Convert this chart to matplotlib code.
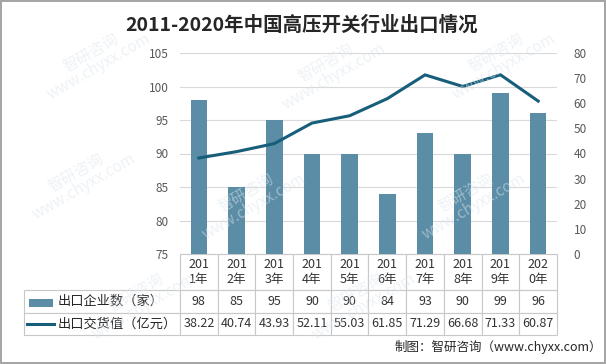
import matplotlib.pyplot as plt
from matplotlib.patches import Rectangle
from matplotlib.lines import Line2D
import numpy as np

plt.rcParams['font.family'] = ['Noto Sans CJK SC', 'DejaVu Sans']

# data
years = ['2011年', '2012年', '2013年', '2014年', '2015年',
         '2016年', '2017年', '2018年', '2019年', '2020年']
companies = [98, 85, 95, 90, 90, 84, 93, 90, 99, 96]
export_value = [38.22, 40.74, 43.93, 52.11, 55.03, 61.85, 71.29, 66.68, 71.33, 60.87]
row_names = ['出口企业数（家）', '出口交货值（亿元）']

bar_color = '#5B8DA6'
line_color = '#165E7A'
grid_color = '#D9D9D9'
text_color = '#595959'

fig = plt.figure(figsize=(6.06, 3.64), dpi=100)
fig.patch.set_edgecolor('#A6A6A6')
fig.patch.set_linewidth(1.5)

ax = fig.add_axes([180/606, 1 - 254/364, 377/606, 201/364])
x = np.arange(len(years))

ax.bar(x, companies, width=0.44, color=bar_color, zorder=2)
ax.set_xlim(-0.5, len(years) - 0.5)
ax.set_ylim(75, 105)
ax.set_yticks(np.arange(75, 106, 5))
ax.yaxis.grid(True, color=grid_color, linewidth=0.8, zorder=0)
ax.tick_params(axis='y', length=0, labelsize=8.5, labelcolor=text_color, pad=8)
ax.set_xticks([])
for s in ax.spines.values():
    s.set_visible(False)

ax2 = ax.twinx()
ax2.plot(x, export_value, color=line_color, linewidth=2.2, zorder=3)
ax2.set_ylim(0, 80)
ax2.set_yticks(np.arange(0, 81, 10))
ax2.tick_params(axis='y', length=0, labelsize=8.5, labelcolor=text_color, pad=12)
for s in ax2.spines.values():
    s.set_visible(False)

# data table under the chart (bbox covers the value grid, row labels sit to its left)
col_labels = [y[:3] + '\n' + y[3:] for y in years]
cell_text = [[str(v) for v in companies], [f'{v:.2f}' for v in export_value]]
tbl = ax.table(cellText=cell_text, rowLabels=row_names, colLabels=col_labels,
               colWidths=[0.1] * len(years),
               cellLoc='center', rowLoc='left',
               bbox=[0, -81/201, 1, 81/201])
tbl.auto_set_font_size(False)
tbl._autoColumns = []  # keep the fixed width of the row label column
for (r, c), cell in tbl.get_celld().items():
    cell.set_edgecolor('#C8C8C8')
    cell.set_linewidth(0.8)
    cell.get_text().set_fontsize(9)
    cell.get_text().set_color('#333333')
    cell.set_height(36 if r == 0 else 22)
    if c == -1:
        cell.set_width(156/377)
        cell.PAD = 34/156
        cell.get_text().set_fontsize(9.5)
        cell.get_text().set_color('#262626')

# legend keys inside the row label cells
fig.add_artist(Rectangle((29/606, 1 - 307/364), 24/606, 8/364,
                         facecolor=bar_color, edgecolor='none'))
fig.add_artist(Line2D([27/606, 54/606], [1 - 324/364, 1 - 324/364],
                      color=line_color, linewidth=2.2))

fig.text(302/606, 1 - 25/364, '2011-2020年中国高压开关行业出口情况',
         ha='center', va='center', fontsize=14, fontweight='bold', color='#262626')
fig.text(602/606, 1 - 347/364, '制图：智研咨询（www.chyxx.com）',
         ha='right', va='center', fontsize=9, color='#262626')

# faint watermarks
for wx, wy in [(95, 60), (330, 70), (500, 60), (80, 180), (250, 200),
               (470, 200), (140, 300), (360, 300)]:
    fig.text(wx/606, 1 - wy/364, '智研咨询\nwww.chyxx.com', rotation=30,
             ha='center', va='center', fontsize=11, color='#DCE6EE',
             alpha=0.5, zorder=0, linespacing=0.9)

fig.savefig('out.png', dpi=100)
